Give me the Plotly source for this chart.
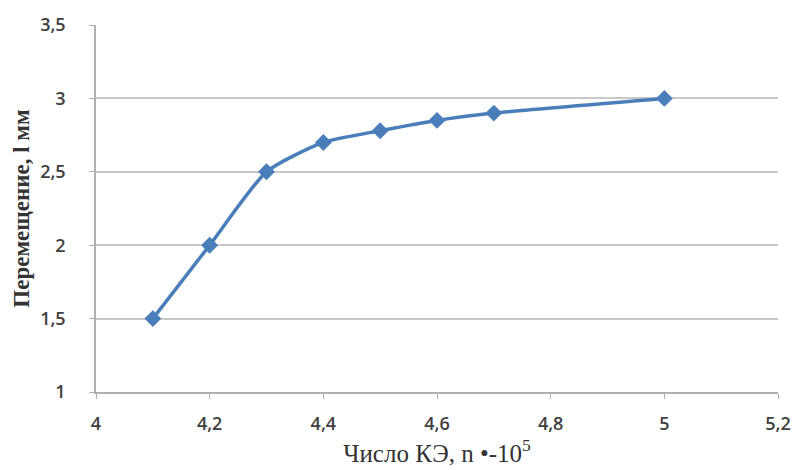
import plotly.graph_objects as go

x_vals = [4.1, 4.2, 4.3, 4.4, 4.5, 4.6, 4.7, 5.0]
y_vals = [1.5, 2.0, 2.5, 2.7, 2.78, 2.85, 2.9, 3.0]
x_ticks = [4, 4.2, 4.4, 4.6, 4.8, 5, 5.2]
x_tick_text = ["4", "4,2", "4,4", "4,6", "4,8", "5", "5,2"]
y_ticks = [1, 1.5, 2, 2.5, 3, 3.5]
y_tick_text = ["1", "1,5", "2", "2,5", "3", "3,5"]

tick_font = dict(family="Open Sans, sans-serif", size=18, color="#404040", weight=600)

fig = go.Figure()
fig.add_trace(go.Scatter(
    x=x_vals, y=y_vals, mode="lines+markers",
    line=dict(color="#4a7ebb", width=3.5, shape="spline", smoothing=0.6),
    marker=dict(symbol="diamond", size=13, color="#4a7ebb"),
    showlegend=False,
))

fig.update_layout(
    width=803, height=470,
    margin=dict(l=96, r=15, t=25, b=78),
    paper_bgcolor="white", plot_bgcolor="white",
    xaxis=dict(
        range=[4, 5.2], tickmode="array", tickvals=x_ticks, ticktext=x_tick_text,
        tickfont=tick_font, ticklabelstandoff=10,
        showgrid=False, showline=True, linecolor="#b0b0b0", linewidth=1.5,
        ticks="outside", ticklen=5, tickcolor="#b0b0b0",
        zeroline=False,
        title=dict(text="Число КЭ, n •-10<sup>5</sup>",
                   font=dict(family="Liberation Serif, serif", size=25, color="#333333"),
                   standoff=2),
    ),
    yaxis=dict(
        range=[1, 3.5], tickmode="array", tickvals=y_ticks, ticktext=y_tick_text,
        tickfont=tick_font, ticklabelstandoff=20,
        showgrid=True, gridcolor="#c8c8c8", gridwidth=2,
        showline=True, linecolor="#b0b0b0", linewidth=1.5,
        ticks="outside", ticklen=5, tickcolor="#b0b0b0",
        zeroline=False,
        title=dict(text="<b>Перемещение, l мм</b>",
                   font=dict(family="Liberation Serif, serif", size=23, color="#333333"),
                   standoff=4),
    ),
)

fig.write_html("out.html")
